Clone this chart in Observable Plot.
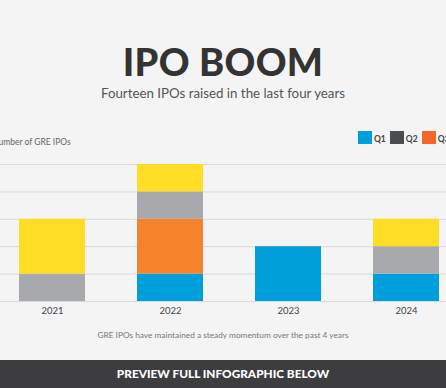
<!DOCTYPE html>
<html>
<head>
<meta charset="utf-8">
<script src="https://cdn.jsdelivr.net/npm/d3@7"></script>
<script src="https://cdn.jsdelivr.net/npm/@observablehq/plot@0.6"></script>
<style>
  html, body { margin: 0; padding: 0; width: 446px; height: 388px; overflow: hidden; background: #f4f4f4; font-family: Lato, "Open Sans", sans-serif; }
  #wrap { position: relative; width: 446px; height: 388px; }
  .abs { position: absolute; white-space: nowrap; }
  #title { top: 42px; left: 0; width: 446px; text-align: center; font-size: 38px; font-weight: 900; color: #333; letter-spacing: 0.3px; line-height: 38px; }
  #subtitle { top: 84px; left: 0; width: 446px; text-align: center; font-size: 13.3px; color: #555; line-height: 18px; }
  #ylabel { top: 136px; left: -8px; font-size: 8.5px; color: #666; line-height: 12px; }
  #legend { top: 131px; left: 358px; display: flex; align-items: flex-end; }
  .sw { display: flex; align-items: flex-end; margin-right: 4px; }
  .sw span.box { width: 14px; height: 13px; display: inline-block; }
  .sw span.lab { font-size: 8.5px; color: #444; margin-left: 2px; line-height: 9px; font-weight: 700; }
  #chart { top: 150px; left: 0; }
  #caption { top: 329px; left: 0; width: 446px; text-align: center; font-size: 8.3px; color: #777; line-height: 12px; }
  #footer { top: 360px; left: 0; width: 446px; height: 28px; background: #3d3d3f; color: #fff; text-align: center; font-size: 11.8px; font-weight: 900; line-height: 28px; }
</style>
</head>
<body>
<div id="wrap">
  <div id="title" class="abs">IPO BOOM</div>
  <div id="subtitle" class="abs">Fourteen IPOs raised in the last four years</div>
  <div id="ylabel" class="abs">Number of GRE IPOs</div>
  <div id="legend" class="abs"></div>
  <div id="chart" class="abs"></div>
  <div id="caption" class="abs">GRE IPOs have maintained a steady momentum over the past 4 years</div>
  <div id="footer" class="abs">PREVIEW FULL INFOGRAPHIC BELOW</div>
</div>
<script>
const years = ["2021", "2022", "2023", "2024"];
const quarters = ["Q1", "Q2", "Q3", "Q4"];
const q1 = [0, 1, 2, 1];
const q2 = [1, 1, 0, 1];
const q3 = [0, 2, 0, 0];
const q4 = [2, 1, 0, 1];
const yTicks = [0, 1, 2, 3, 4, 5];
const barColors = ["#009fdc", "#a7a9ac", "#f4832b", "#ffdd24"];
const legendColors = ["#009fdc", "#4b4c50", "#f2662a", "#ffdd24"];

// stacking order as drawn: Q1 bottom, Q3, Q2, Q4 top
const seriesByQ = {Q1: q1, Q2: q2, Q3: q3, Q4: q4};
const stackOrder = ["Q1", "Q3", "Q2", "Q4"];
const rows = [];
for (const q of stackOrder) {
  years.forEach((y, i) => rows.push({year: y, quarter: q, value: seriesByQ[q][i]}));
}

const plot = Plot.plot({
  width: 446,
  height: 170,
  marginTop: 14,
  marginBottom: 19,
  marginLeft: 0,
  marginRight: 0,
  style: {background: "transparent", fontFamily: "Lato, sans-serif"},
  x: {domain: years, range: [-7.75, 466.25], paddingInner: 0.443, paddingOuter: 0.2215, align: 0.5, label: null},
  y: {domain: [0, 5], label: null, axis: null},
  color: {domain: quarters, range: barColors},
  marks: [
    Plot.ruleY(yTicks, {stroke: "#d8d8d8", strokeWidth: 1}),
    Plot.barY(rows, {x: "year", y: "value", fill: "quarter"}),
    Plot.axisX({tickSize: 0, tickPadding: 6, fontSize: 9.5, fill: "#444", label: null})
  ]
});
document.getElementById("chart").appendChild(plot);

const legend = document.getElementById("legend");
quarters.forEach((q, i) => {
  const d = document.createElement("div");
  d.className = "sw";
  d.innerHTML = `<span class="box" style="background:${legendColors[i]}"></span><span class="lab">${q}</span>`;
  legend.appendChild(d);
});
</script>
</body>
</html>
